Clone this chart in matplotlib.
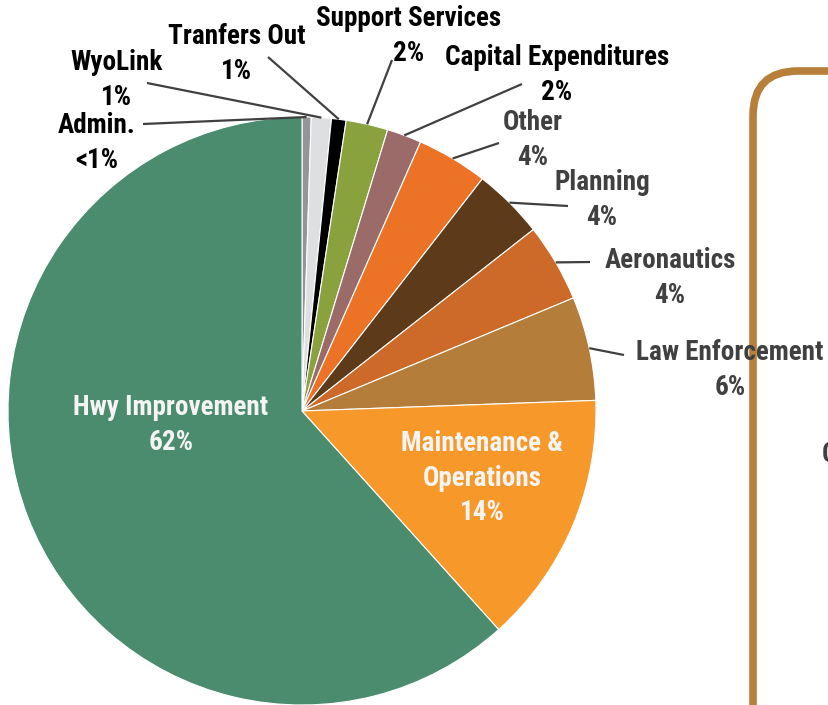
import matplotlib.pyplot as plt
from matplotlib.patches import FancyBboxPatch
import numpy as np

plt.rcParams['font.family'] = ['Roboto Condensed', 'Liberation Sans', 'DejaVu Sans']

W, H = 829, 705

# slices, clockwise from 12 o'clock
categories = ["Admin.", "WyoLink", "Tranfers Out", "Support Services",
              "Capital Expenditures", "Other", "Planning", "Aeronautics",
              "Law Enforcement", "Maintenance &\nOperations", "Hwy Improvement"]
shares = [0.5, 1.1, 0.8, 2.3, 1.9, 3.9, 3.9, 4.3, 5.7, 13.9, 61.6]
pct_text = ["<1%", "1%", "1%", "2%", "2%", "4%", "4%", "4%", "6%", "14%", "62%"]
colors = ["#939598", "#dedfe1", "#000000", "#8aa23e", "#9b6b6a", "#ec7226",
          "#5c3a1a", "#cd6a29", "#b57d3a", "#f7982a", "#4b8c6f"]

# label layout in pixels (x, y from top)
label_pos = [(97, 143), (117, 80), (237, 54), (409, 36), (557, 75), (533, 140),
             (602, 200), (670, 278), (730, 370), (482, 478), (171, 425)]
leader_end = [(143, 124), (147, 83), (268, 57), (392, 60), (522, 84), (499, 143),
              (568, 206), (590, 262), (624, 355), None, None]
text_colors = ["#000000"] * 5 + ["#404040"] * 4 + ["#f4f4f4"] * 2

cx, cy, r = 302, H - 411, 294

fig = plt.figure(figsize=(W / 100, H / 100), dpi=100)
ax = fig.add_axes([0, 0, 1, 1])

wedges, _ = ax.pie(shares, colors=colors, startangle=90, counterclock=False,
                   center=(cx, cy), radius=r,
                   wedgeprops=dict(edgecolor="white", linewidth=0.8))

for w, end, pos, cat, pct, tc in zip(wedges, leader_end, label_pos,
                                     categories, pct_text, text_colors):
    if end is not None:
        mid = np.deg2rad((w.theta1 + w.theta2) / 2)
        ax.plot([cx + r * np.cos(mid), end[0]], [cy + r * np.sin(mid), H - end[1]],
                color="#404040", lw=1.6, solid_capstyle="butt", zorder=2)
    ax.text(pos[0], H - pos[1], f"{cat}\n{pct}", ha="center", va="center",
            fontsize=19.5, fontweight="bold", color=tc, linespacing=1.38, zorder=4)

# cropped box on the right
box = FancyBboxPatch((753, -100), 300, H - 71 + 100,
                     boxstyle="round,pad=0,rounding_size=45",
                     fill=False, ec="#b87f3a", lw=5.5, zorder=1)
ax.add_patch(box)
ax.text(822, H - 454, "C", ha="left", va="center", fontsize=19.5,
        fontweight="bold", color="#404040")

ax.set_xlim(0, W)
ax.set_ylim(0, H)
ax.set_aspect("equal")
ax.axis("off")

fig.savefig("out.png", dpi=100)
